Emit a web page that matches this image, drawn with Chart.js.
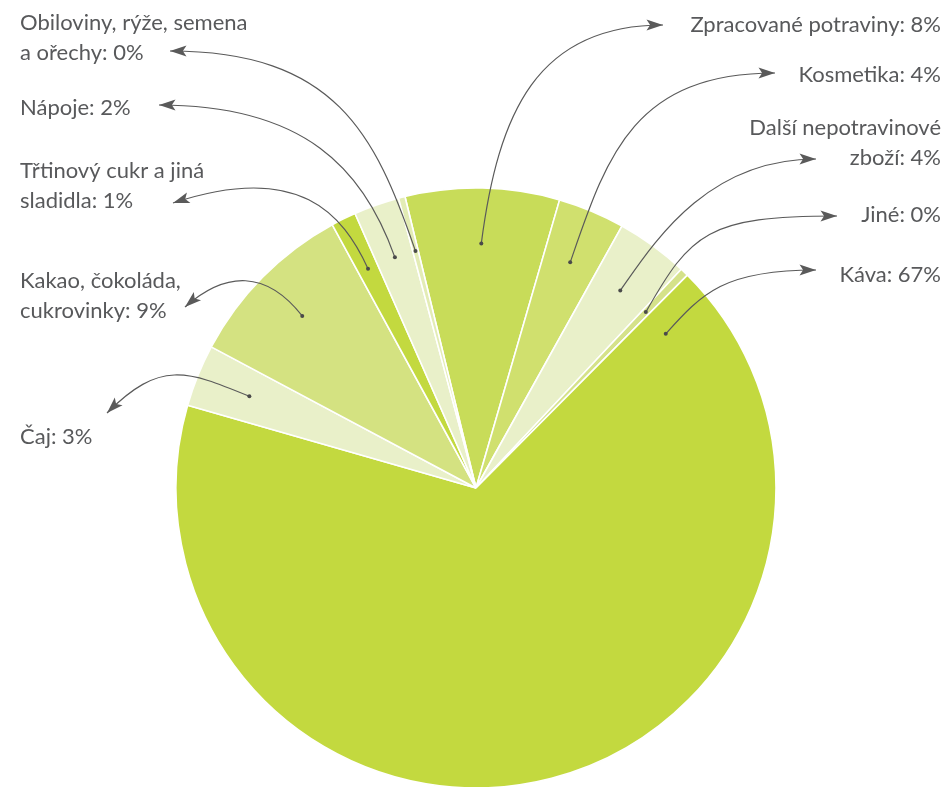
<!DOCTYPE html>
<html>
<head>
<meta charset="utf-8">
<script src="https://cdn.jsdelivr.net/npm/chart.js@4.4.1/dist/chart.umd.min.js"></script>
<style>
html,body{margin:0;padding:0;background:#ffffff;overflow:hidden}
#wrap{width:946px;height:787px;position:relative}
</style>
</head>
<body>
<div id="wrap"><canvas id="c" width="946" height="787"></canvas></div>
<script>
// ---- data ----
const categories = [
  'Zpracované potraviny',
  'Kosmetika',
  'Další nepotravinové zboží',
  'Jiné',
  'Káva',
  'Čaj',
  'Kakao, čokoláda, cukrovinky',
  'Třtinový cukr a jiná sladidla',
  'Nápoje',
  'Obiloviny, rýže, semena a ořechy'
];
const shares = [8.3, 3.6, 3.9, 0.45, 67.0, 3.35, 9.25, 1.35, 2.45, 0.35];

// ---- styles ----
const sliceColors = ['#c8dc59', '#d0e06e', '#e9f0c9', '#d5e28a', '#c3d93f',
                     '#e9f0c9', '#d4e281', '#c3d93f', '#e9f0c9', '#e3ecb5'];
const TEXT_COLOR = '#58595b';
const LINE_COLOR = '#5a5a5a';
const FONT = '22px Lato';
const LINE_H = 29.5;

// callout layout: text anchor, wrap width, arrow tip and bezier handle offsets
const calloutLayout = [
  {align:'right', x:941, y:32,  maxW:400, tip:[663,25],  c1:[17,-131],  c2:[-126,0]},
  {align:'right', x:941, y:82,  maxW:400, tip:[775,73],  c1:[36,-104],  c2:[-143,0]},
  {align:'right', x:941, y:135, maxW:215, tip:[816,159], c1:[33,-47],   c2:[-110,0]},
  {align:'right', x:941, y:222, maxW:400, tip:[837,216], c1:[45,-79],   c2:[-130,0]},
  {align:'right', x:941, y:282, maxW:400, tip:[816,270], c1:[37,-41],   c2:[-92,0], dotAngle:6.1},
  {align:'left',  x:20,  y:444, maxW:235, tip:[107,413], c1:[-63,-26],  c2:[53,-53]},
  {align:'left',  x:20,  y:288, maxW:235, tip:[185,307], c1:[-36,-46],  c2:[41,-36]},
  {align:'left',  x:20,  y:178, maxW:235, tip:[173,203], c1:[-25,-54],  c2:[127,-42]},
  {align:'left',  x:20,  y:115, maxW:235, tip:[159,105], c1:[-31,-88],  c2:[146,0]},
  {align:'left',  x:20,  y:30,  maxW:235, tip:[170,51],  c1:[-40,-117], c2:[165,0]}
];

function wrapText(ctx, text, maxW) {
  const words = text.split(' ');
  const lines = [];
  let cur = '';
  for (const w of words) {
    const test = cur ? cur + ' ' + w : w;
    if (cur && ctx.measureText(test).width > maxW) {
      lines.push(cur);
      cur = w;
    } else {
      cur = test;
    }
  }
  if (cur) lines.push(cur);
  return lines;
}

const calloutPlugin = {
  id: 'callouts',
  afterDraw(chart) {
    const ctx = chart.ctx;
    const meta = chart.getDatasetMeta(0);
    const values = chart.data.datasets[0].data;
    const total = values.reduce((a, b) => a + b, 0);
    ctx.save();
    meta.data.forEach((arc, i) => {
      const L = calloutLayout[i];
      const p = arc.getProps(['x', 'y', 'startAngle', 'endAngle', 'outerRadius'], true);
      const ang = (L.dotAngle != null) ? p.startAngle + L.dotAngle * Math.PI / 180
                                       : (p.startAngle + p.endAngle) / 2;
      const r = p.outerRadius * 0.815;
      const x0 = p.x + Math.cos(ang) * r;
      const y0 = p.y + Math.sin(ang) * r;
      const [x3, y3] = L.tip;
      const x1 = x0 + L.c1[0], y1 = y0 + L.c1[1];
      const x2 = x3 + L.c2[0], y2 = y3 + L.c2[1];
      // curve
      ctx.strokeStyle = LINE_COLOR;
      ctx.lineWidth = 1.2;
      ctx.beginPath();
      ctx.moveTo(x0, y0);
      ctx.bezierCurveTo(x1, y1, x2, y2, x3, y3);
      ctx.stroke();
      // arrow head
      let dx = x3 - x2, dy = y3 - y2;
      const len = Math.hypot(dx, dy) || 1;
      dx /= len; dy /= len;
      const hl = 16.5, hw = 5.5;
      ctx.fillStyle = LINE_COLOR;
      ctx.beginPath();
      ctx.moveTo(x3, y3);
      ctx.lineTo(x3 - dx * hl - dy * hw, y3 - dy * hl + dx * hw);
      ctx.lineTo(x3 - dx * hl * 0.78, y3 - dy * hl * 0.78);
      ctx.lineTo(x3 - dx * hl + dy * hw, y3 - dy * hl - dx * hw);
      ctx.closePath();
      ctx.fill();
      // dot
      ctx.fillStyle = '#4a4a4a';
      ctx.beginPath();
      ctx.arc(x0, y0, 2, 0, Math.PI * 2);
      ctx.fill();
      // text
      ctx.font = FONT;
      ctx.fillStyle = TEXT_COLOR;
      ctx.textAlign = L.align;
      ctx.textBaseline = 'alphabetic';
      const pct = Math.round(values[i] / total * 100);
      const label = chart.data.labels[i] + ': ' + pct + '%';
      const lines = wrapText(ctx, label, L.maxW);
      lines.forEach((ln, k) => ctx.fillText(ln, L.x, L.y + k * LINE_H));
    });
    ctx.restore();
  }
};

new Chart(document.getElementById('c'), {
  type: 'pie',
  data: {
    labels: categories,
    datasets: [{
      data: shares,
      backgroundColor: sliceColors,
      borderColor: '#ffffff',
      borderWidth: 1.6
    }]
  },
  options: {
    responsive: false,
    maintainAspectRatio: false,
    animation: false,
    rotation: -13.7,
    radius: 300,
    layout: { padding: { left: 6, right: 0, top: 189, bottom: 0 } },
    plugins: {
      legend: { display: false },
      tooltip: { enabled: false }
    }
  },
  plugins: [calloutPlugin]
});
</script>
</body>
</html>
